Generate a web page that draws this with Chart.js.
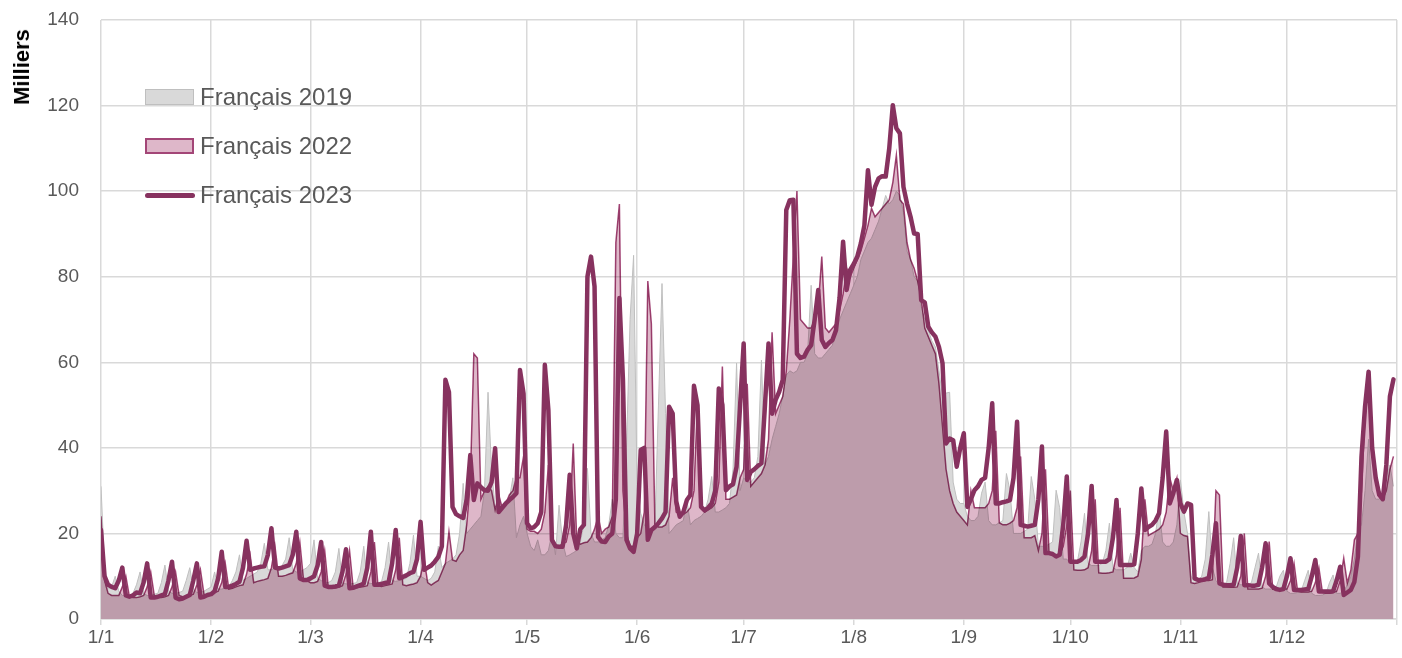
<!DOCTYPE html>
<html>
<head>
<meta charset="utf-8">
<script src="https://cdn.jsdelivr.net/npm/chart.js@4.4.1/dist/chart.umd.min.js"></script>
<style>
html,body{margin:0;padding:0;background:#fff;}
#wrap{position:relative;width:1402px;height:658px;overflow:hidden;font-family:"Liberation Sans",Arial,sans-serif;background:#fff;}
#c{position:absolute;left:0;top:0;}
#ytitle{position:absolute;left:22px;top:67px;transform:translate(-50%,-50%) rotate(-90deg);font-weight:bold;font-size:22px;color:#000;white-space:nowrap;line-height:1;}
.leg{position:absolute;left:145px;height:30px;display:flex;align-items:center;font-size:24px;color:#595959;white-space:nowrap;line-height:1;}
.sw{display:inline-block;width:49px;height:16px;box-sizing:border-box;margin-right:6px;}
.ln{display:inline-block;width:50px;height:5px;border-radius:3px;margin-right:5px;}
</style>
</head>
<body>
<div id="wrap">
<canvas id="c" width="1402" height="658"></canvas>
<div id="ytitle"></div>
<div id="legend"></div>
</div>
<script>
// ---- labels ----
const yTitle = "Milliers";
const seriesNames = ["Français 2019", "Français 2022", "Français 2023"];
const tickLabels = ["1/1","1/2","1/3","1/4","1/5","1/6","1/7","1/8","1/9","1/10","1/11","1/12",""];
const tickDays = [0,31,59,90,120,151,181,212,243,273,304,334,365];

// ---- daily values (milliers), 1 Jan -> 31 Dec ----
const fr2019 = [
31,12,7,7.5,10,6.5,5.5,5.5,5.5,6,8,11,6,5.5,5.5,5.8,6,8.5,12.6,6.5,6,6,6.2,6.5,9,12,7,6.2,6.2,6.5,7,
7.5,11,7,7,7.2,7.5,9,11,15,9,9.5,10,10.5,11,13,17.7,11.5,11.5,12,12,12.5,14,19,11.5,11,11,11.5,12,
13,18.5,9.5,9,8.5,8.5,9,11,16.5,8.5,8.2,8.2,8.3,8.5,11,17,8.5,8.3,8.3,8.5,8.7,12,18,9,8.8,9,9.2,9.5,13,19.6,10,
10,9.5,9,9.5,11,17,12,13,13.5,14,15,20,31.7,20,21,22,23,24,30,53,35,26,25,26,27,28,33,19,22,24,
20,17,16,18.5,15,15,16,20,15,26.6,18,14.6,15,15.5,16,18,22,35.2,20,18,18,18.5,19,22,28,20,19,19,40,70,85,
30,24.7,22,21,21,22,50,78.4,48,20,21,22,22.5,23,28,22,23,23.5,24,25,28,33.3,25,25,25.5,26,27,35,59.8,30,
33,32,32,33,38,60.5,36,38,42,45,48,52,57,58,57.5,58,60,60,62,78,62,61,61,62,63,64,68,70,72,74,76,
78,80,84,86,88,89,91,93,96,99,97,98,100,99,95,86,84,80,79,73,70,67.5,65,63.6,58,52,52.8,53,32,28,27,
27,24,23,23,24,29.4,32,23,22,22,22.5,23,34,30,20,20,20,20.5,21,33.3,28,17,17,17,17.5,18,30.1,26,14,14,
13,13,13.5,18,24.7,13,12.5,12.5,12.5,13,16,22.4,12,11.5,11.5,11.5,12,15.4,12,11,16,17,17,17.5,20,26,18,17,17,18,22,
32.5,25,20,10,9,9,10,14,25.1,12,9,8,8,8.5,13,19,8.5,8,8,8,8.5,12,15.4,7.5,7,7,7,7.5,10,11.4,
6.5,6,6,6.2,6.5,9,11.4,6,5.5,5.5,5.6,6,8.5,10.3,6,6,6.5,8,10,14,20.8,22,30,42,30,28,28,29,33,36,31
];
const fr2022 = [
24,9,6,5.5,5.5,5.5,7.5,10,5.2,5,5,5.2,5.5,7.5,11,5.5,5,5,5.2,5.5,7.5,11,5.5,5.2,5.2,5.5,5.8,8,11.5,5.8,5.5,
6,6.2,6.5,8.5,13,7,7.2,7.5,7.8,8,10.5,15,8.5,8.8,9,9.2,9.5,12,17,10,10,10.2,10.5,10.8,13,18,9.5,9,
8.5,8.5,8.8,11,16,7.5,7.3,7.3,7.5,7.8,10.5,16,7.5,7.3,7.5,7.6,7.8,11,18,7.8,7.6,7.8,8,8.2,11.5,19,8,7.8,8,8.2,8.5,
10,14,8.5,7.9,8.5,9,11,13,20.4,13.8,13.5,15,16,22,32,62,61,28,30,31,30,25.5,29,26,27,29,30,33,33,38,
21,20.5,20.5,20,21,25,36,18,17,17,17.5,18,22,41,18,17.5,17.8,18,19,21,24,20,21,21.5,24,88,97,30,20,17,17,
19,20,25,79,69,22,21.5,21.5,22,24,33,25,24.5,24.5,25,26,30,51,26,25,25.5,26,27,32,59,28,28,28.5,29,33,
35,55,31,32,33,34,36,42,67,48,50,52,58,70,85,100,70,69,68,68,70,73,84.7,68,67,68,69,72,76,82,80,
82,84,86,89,92,96,94,95,96,97,98,102,108.4,98,97,88,84,82,79,75,68,66,64,62,55,45,35,30,27,25,24,
23,22,30,26,26,26,26,27,30,44,22.5,22,22,22.4,23,26,38,19,19,19,19.5,16,20,35,15.5,15,14.8,15,17,22,
30,11.5,11.4,11.4,11.5,12,16,28,10.8,10.7,10.7,10.8,11,15,26,9.5,9.5,9.5,9.6,10,14,28,19.5,20,20.5,21,22,25,33,30,32.9,
20,19.5,19.3,8.5,8.3,8.5,8.8,9,9,9.2,30,29,7.5,7.5,7.4,7.4,7.5,10,20,7,7,7,7,7.2,10,18.1,7,6.8,6.8,7,
7,9,13,6.5,6.3,6.3,6.3,6.5,8.5,12,6.2,6,6,6.2,6.5,9,14.2,8.4,11.4,18.5,20,30,48,57,42,34,30,28,30,35,38
];
const fr2023 = [
20.8,10,8,7.5,7.2,9,12,5.5,5.2,5.5,6.2,6,8.5,13,5,5,5.2,5.5,5.8,9,13.4,5,4.6,4.8,5.2,5.6,9,13,5,5.2,5.6,
5.8,6.5,9.5,15.7,7.5,7.5,7.8,8.2,8.7,12,18.3,11.5,11.8,12,12.2,12.3,15,21.2,12,11.8,12,12.3,12.6,15,20.4,9.5,9.1,9.1,
9.5,10,12.5,18,7.8,7.5,7.5,7.6,7.8,11,16.3,7.2,7.3,7.6,7.9,8.3,12,20.4,8,8,8.2,8.4,8.6,13,20.8,9.5,9.8,10.2,10.7,11,14,
22.7,11.5,12,12.5,13.4,14.5,17,55.9,53,26.2,24.5,24,23.6,28,38.3,27.8,31.7,30.8,30.1,30,32,39.9,25,26,27,27.8,28.5,29.4,58.2,52.7,
22.4,21.2,21.5,22.4,25,59.4,48.8,18.5,17,16.9,16.9,22,33.7,20,16.5,21,22,80,84.7,77.7,19.2,18.1,18,19.3,20,28,75,55.9,18.5,16.5,15.7,
20,39.5,40,18.5,20.8,21.5,22.4,23.5,25,49.6,48,27.5,23.9,25,27.8,29,54.5,50,26.2,25.4,26,27,30,53.9,50,30.1,31,31.5,35.6,50,
64.4,32.5,34.4,35,35.8,36.4,50,64.4,48,51.2,53.1,55.9,95.6,97.9,98,62,61,61.3,62.9,64,70,76.9,65.2,63.6,64.5,65.2,67.5,75,88.2,76.9,81.6,
83,84.7,87.8,92,104.9,96.8,101,103,103.5,103.4,110,120.1,114.7,113.5,101,97.1,94,90.1,90,74.5,74,68.3,67,66,63.6,59.8,41,42.2,41.8,35.6,40,
43.4,26.2,28,30.1,31,32.5,33,40,50.4,27,27,27.3,27.5,27.8,33,46.1,22,21.8,21.6,21.8,22,28,40.3,15.4,15.4,15.2,14.6,15,22,33.3,
13.4,13.4,13.4,13.8,14.6,20,31.1,13.4,13.4,13.4,13.4,14,19,27.8,12.6,12.6,12.6,12.6,12.8,20,30.5,20.8,21.5,22,23,24.7,33,43.8,27,29.4,32.5,
27,25.1,27,26.7,9.5,9.1,9.1,9.3,9.6,15,22.4,8.3,8,7.9,7.9,8,12,19.4,7.9,7.9,7.8,7.8,8,12,17.7,8.3,7.5,7,6.8,7,
10,14.2,6.8,6.8,6.8,6.9,7,10,13.8,6.4,6.4,6.4,6.4,6.5,9,12.2,5.6,6.2,6.8,8.7,14.6,37.9,49.6,57.8,40,33,29,28,36,52,56
];

// day index of each daily value (category axis position)
const days = fr2023.map((_, i) => i);

const colors = {
  fill2019: '#d9d9d9', line2019: '#bfbfbf',
  fill2022: '#deb7c9', line2022: '#a34677',
  line2023: '#87325f', grid: '#d9d9d9', text: '#595959'
};
const FONT = '"Liberation Sans", Arial, sans-serif';

// 2022 area (fill + border) is blended with 'multiply' over the 2019 area,
// giving the mauve overlap of the original. Draw order: 2019, 2022, 2023.
const blendPlugin = {
  id: 'blend',
  afterDatasetDraw(chart, args) {
    if (args.index === 0) { chart.ctx.save(); chart.ctx.globalCompositeOperation = 'multiply'; }
    else if (args.index === 1) { chart.ctx.restore(); }
  }
};

new Chart(document.getElementById('c'), {
  type: 'line',
  data: {
    labels: days,
    datasets: [
      { label: seriesNames[0], data: fr2019, fill: 'origin', backgroundColor: colors.fill2019,
        borderColor: colors.line2019, borderWidth: 1, pointRadius: 0, tension: 0, order: 3 },
      { label: seriesNames[1], data: fr2022, fill: 'origin', backgroundColor: colors.fill2022,
        borderColor: colors.line2022, borderWidth: 1.5, pointRadius: 0, tension: 0, order: 2 },
      { label: seriesNames[2], data: fr2023, fill: false, borderColor: colors.line2023,
        borderWidth: 4.5, pointRadius: 0, tension: 0, order: 1,
        borderJoinStyle: 'round', borderCapStyle: 'round' }
    ]
  },
  options: {
    responsive: false,
    animation: false,
    devicePixelRatio: 1,
    layout: { padding: { left: 0, right: 5, top: 20, bottom: 0 } },
    plugins: { legend: { display: false }, tooltip: { enabled: false } },
    scales: {
      x: {
        type: 'linear', min: 0, max: 365,
        afterBuildTicks: s => { s.ticks = tickDays.map(v => ({ value: v })); },
        afterFit: s => { s.height = 39; },
        ticks: {
          autoSkip: false, maxRotation: 0, minRotation: 0, padding: 1,
          color: colors.text, font: { family: FONT, size: 19 },
          callback: v => { const i = tickDays.indexOf(v); return i >= 0 ? tickLabels[i] : ''; }
        },
        grid: { color: colors.grid, lineWidth: 1.5, drawTicks: true, tickLength: 6, tickColor: colors.grid },
        border: { display: true, color: colors.grid, width: 1.5 }
      },
      y: {
        min: 0, max: 140,
        afterFit: s => { s.width = 101; },
        ticks: { stepSize: 20, padding: 0, color: colors.text, font: { family: FONT, size: 19 } },
        grid: { color: colors.grid, lineWidth: 1.5, drawTicks: true, tickLength: 22, tickColor: 'rgba(0,0,0,0)' },
        border: { display: false }
      }
    }
  },
  plugins: [blendPlugin]
});

// axis title + legend as real text
document.getElementById('ytitle').textContent = yTitle;
const legend = document.getElementById('legend');
const legTops = [82, 131, 180];
const swatches = [
  `<span class="sw" style="background:${colors.fill2019};border:1.5px solid ${colors.line2019}"></span>`,
  `<span class="sw" style="background:${colors.fill2022};border:2px solid ${colors.line2022}"></span>`,
  `<span class="ln" style="background:${colors.line2023}"></span>`
];
seriesNames.forEach((n, i) => {
  const d = document.createElement('div');
  d.className = 'leg';
  d.style.top = legTops[i] + 'px';
  d.innerHTML = swatches[i];
  d.appendChild(document.createTextNode(n));
  legend.appendChild(d);
});
</script>
</body>
</html>
